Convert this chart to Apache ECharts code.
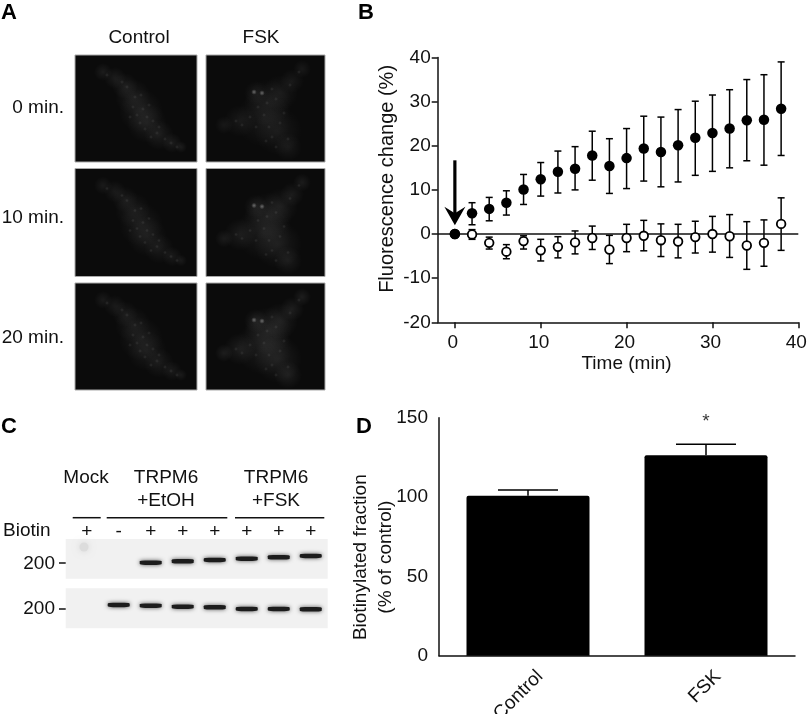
<!DOCTYPE html>
<html>
<head>
<meta charset="utf-8">
<style>
  html, body { margin: 0; padding: 0; background: #fff; }
  #chart { width: 807px; height: 714px; }
</style>
</head>
<body>
<div id="chart"></div>
<script src="https://cdn.jsdelivr.net/npm/echarts@6/dist/echarts.min.js"></script>
<script>
// panel B: fluorescence change over time
const times = [0, 2, 4, 6, 8, 10, 12, 14, 16, 18, 20, 22, 24, 26, 28, 30, 32, 34, 36, 38]
const fskMean = [0, 4.7, 5.7, 7.1, 10.1, 12.4, 14.1, 14.8, 17.8, 15.4, 17.2, 19.4, 18.6, 20.1, 21.8, 22.9, 23.9, 25.8, 25.9, 28.4]
const fskHigh = [0, 7.1, 8.3, 9.8, 13.5, 16.2, 18.8, 19.8, 23.3, 21.6, 23.9, 26.7, 26.5, 28.2, 30.1, 31.5, 32.7, 35, 36.1, 39]
const fskLow = [0, 2.1, 3, 4.3, 6.7, 8.6, 9.3, 10, 12.2, 9.2, 10.3, 12, 10.7, 11.8, 13.3, 14.2, 15, 16.6, 15.6, 17.8]
const ctlMean = [0, -0.1, -2, -4, -1.6, -3.7, -2.9, -1.9, -0.9, -3.5, -0.9, -0.4, -1.4, -1.7, -0.7, 0, -0.5, -2.6, -2, 2.3]
const ctlHigh = [0, 1, -0.7, -2.4, -0.4, -1.2, -0.6, 0.7, 1.8, -0.3, 2.2, 3.1, 2.3, 2.2, 2.9, 4, 4.4, 2.8, 3.2, 8.2]
const ctlLow = [0, -1.2, -3.4, -5.6, -3.4, -6.1, -5.4, -4.5, -3.5, -6.7, -4, -3.8, -5.1, -5.4, -4.3, -4.1, -5.3, -8, -7.3, -3.7]
const timeTicks = [0, 10, 20, 30, 40]
const zeroLine = [[-2, 0], [40, 0]]
const arrowMark = [[0, 16.7, 2]]

// panel D: biotinylated fraction
const barNames = ['Control', 'FSK']
const barValues = [100.8, 126.3]
const barErrors = [104.4, 133.2]

// panel C: blot bands, lane number and position down the blot
const upperLanes = [2, 3, 4, 5, 6, 7]
const upperBands = [23.7, 22.3, 21, 19.7, 18.3, 17]
const lowerLanes = [1, 2, 3, 4, 5, 6, 7]
const lowerBands = [66, 66.7, 67.7, 68.3, 70, 70, 70.3]
const laneSigns = ['+', '-', '+', '+', '+', '+', '+', '+']

// panel A: soft patches (x, y, radius) that build up each cell
const controlPatches = [[28, 17, 9], [40, 23, 11], [50, 31, 13], [58, 42, 18], [66, 56, 22], [72, 68, 20], [84, 80, 15], [97, 88, 10], [106, 92, 6]]
const fskPatches = [[96, 14, 9], [86, 26, 12], [74, 38, 18], [50, 38, 12], [62, 48, 24], [58, 64, 28], [72, 76, 24], [82, 92, 14], [34, 66, 16], [18, 70, 9]]
const controlSpots = [[60, 42], [72, 62], [65, 68], [82, 78], [102, 92], [52, 32], [32, 20], [58, 52], [66, 40], [74, 50], [62, 60], [78, 66], [70, 74], [90, 84], [55, 62], [47, 27], [84, 72], [96, 88], [76, 82], [68, 54]]
const fskSpots = [[63, 72], [61, 48], [78, 58], [66, 82], [93, 17], [52, 52], [70, 44], [44, 62], [58, 60], [74, 68], [82, 84], [30, 66], [36, 70], [66, 34], [50, 72], [84, 30], [70, 92], [60, 86]]
const fskBright = [[56, 38], [48, 37]]

const FONT = '"Liberation Sans", Arial, sans-serif'

const chart = echarts.init(document.getElementById('chart'))

// error bars with caps, shared by panels B and D
function errorBars(capHalf, lineWidth, upperOnly) {
  return function (params, api) {
    const top = api.coord([api.value(0), api.value(2)])
    const bottom = api.coord([api.value(0), api.value(1)])
    const style = { stroke: '#000', lineWidth: lineWidth, fill: null }
    const children = [
      { type: 'line', shape: { x1: top[0], y1: top[1], x2: bottom[0], y2: bottom[1] }, style: style },
      { type: 'line', shape: { x1: top[0] - capHalf, y1: top[1], x2: top[0] + capHalf, y2: top[1] }, style: style }
    ]
    if (!upperOnly) {
      children.push({ type: 'line', shape: { x1: bottom[0] - capHalf, y1: bottom[1], x2: bottom[0] + capHalf, y2: bottom[1] }, style: style })
    }
    return { type: 'group', children: children }
  }
}

function renderArrow(params, api) {
  const from = api.coord([api.value(0), api.value(1)])
  const to = api.coord([api.value(0), api.value(2)])
  return {
    type: 'group',
    children: [
      { type: 'line', shape: { x1: from[0], y1: from[1], x2: to[0], y2: to[1] - 10 }, style: { stroke: '#000', lineWidth: 3.2 } },
      {
        type: 'polygon',
        shape: { points: [[to[0], to[1]], [to[0] - 10.5, to[1] - 18.5], [to[0], to[1] - 12], [to[0] + 10.5, to[1] - 18.5]] },
        style: { fill: '#000' }
      }
    ]
  }
}

function label(text, x, y, align, extra) {
  return {
    type: 'text',
    x: x,
    y: y,
    style: Object.assign({
      text: text,
      fill: '#111',
      font: '19px ' + FONT,
      textAlign: align || 'center',
      textVerticalAlign: 'middle'
    }, extra || {})
  }
}

function panelLetter(text, x, y) {
  return label(text, x, y, 'left', { font: 'bold 22px ' + FONT, fill: '#000' })
}

function rule(x1, x2, y) {
  return { type: 'line', shape: { x1: x1, y1: y, x2: x2, y2: y }, style: { stroke: '#111', lineWidth: 1.5 } }
}

function softDot(x, y, r, alpha) {
  return {
    type: 'circle',
    shape: { cx: x, cy: y, r: r },
    style: {
      fill: {
        type: 'radial', x: 0.5, y: 0.5, r: 0.5,
        colorStops: [
          { offset: 0, color: 'rgba(255,255,255,' + alpha + ')' },
          { offset: 1, color: 'rgba(255,255,255,0)' }
        ]
      }
    }
  }
}

// one microscope image: dark panel with a soft grey cell
function cellImage(x, y, w, h, patches, spots, glow, bright) {
  const children = [
    { type: 'rect', shape: { x: 0, y: 0, width: w, height: h }, style: { fill: '#0b0b0b', stroke: '#a9a9a9', lineWidth: 1 } }
  ]
  patches.forEach(p => children.push(softDot(p[0], p[1], p[2], glow)))
  spots.forEach(s => children.push(softDot(s[0], s[1], 2, 0.09)))
  if (bright) {
    bright.forEach(s => children.push(softDot(s[0], s[1], 2.8, 0.35)))
  }
  return { type: 'group', x: x, y: y, children: children }
}

const graphics = [
  panelLetter('A', 1, 13),
  panelLetter('B', 358, 13),
  panelLetter('C', 1, 427),
  panelLetter('D', 356, 427),
  label('Control', 139, 38),
  label('FSK', 261, 38),
  label('0 min.', 64, 108, 'right'),
  label('10 min.', 64, 218, 'right'),
  label('20 min.', 64, 338, 'right'),
  cellImage(75, 55, 122, 107, controlPatches, controlSpots, 0.07),
  cellImage(206, 55, 119, 107, fskPatches, fskSpots, 0.055, fskBright),
  cellImage(75, 168.5, 122, 108, controlPatches, controlSpots, 0.062),
  cellImage(206, 168.5, 119, 108, fskPatches, fskSpots, 0.065, fskBright),
  cellImage(75, 283, 122, 107, controlPatches, controlSpots, 0.062),
  cellImage(206, 283, 119, 107, fskPatches, fskSpots, 0.075, fskBright),

  label('Mock', 86, 478),
  label('TRPM6', 166, 478),
  label('+EtOH', 166, 501),
  label('TRPM6', 276, 478),
  label('+FSK', 276, 501),
  label('Biotin', 3, 531, 'left'),
  rule(72.7, 100.7, 517.7),
  rule(106.7, 227.3, 517.7),
  rule(235, 324.3, 517.7),
  label('200', 55, 563.5, 'right'),
  label('200', 55, 609, 'right'),
  rule(59, 66.5, 563),
  rule(59, 66.5, 609),
  { type: 'rect', shape: { x: 65.7, y: 539, width: 262, height: 39.7 }, style: { fill: '#f1f1f1' } },
  { type: 'rect', shape: { x: 65.7, y: 588.3, width: 262, height: 40 }, style: { fill: '#f1f1f1' } },
  { type: 'circle', shape: { cx: 84, cy: 547, r: 4.5 }, style: { fill: '#dcdcdc', shadowBlur: 7, shadowColor: '#d6d6d6' } }
]

laneSigns.forEach((sign, i) => {
  graphics.push(label(sign, 86.7 + 32 * i, 532))
})

const axisLine = { lineStyle: { color: '#111', width: 1.5 } }
const axisTick = { length: 6, lineStyle: { color: '#111', width: 1.5 } }
const tickText = { color: '#111', fontSize: 19, fontFamily: FONT }

function bandSeries(lanes, positions) {
  return {
    type: 'scatter',
    xAxisIndex: 2,
    yAxisIndex: 2,
    silent: true,
    symbol: 'roundRect',
    symbolSize: [22, 4.4],
    itemStyle: { color: '#1c1c1c', shadowBlur: 4, shadowColor: '#555', opacity: 1 },
    data: lanes.map((lane, i) => [lane, positions[i]])
  }
}

chart.setOption({
  animation: false,
  backgroundColor: '#fff',
  textStyle: { fontFamily: FONT },
  graphic: graphics,
  grid: [
    { left: 437.7, top: 57.5, width: 360.6, height: 264.8, outerBoundsMode: 'none' },
    { left: 439, top: 417.7, width: 356, height: 238, outerBoundsMode: 'none' },
    { left: 65.7, top: 539, width: 262, height: 89.3, outerBoundsMode: 'none' }
  ],
  xAxis: [
    {
      gridIndex: 0,
      type: 'value',
      min: -2,
      max: 40,
      splitLine: { show: false },
      axisLine: Object.assign({ onZero: false }, axisLine),
      axisTick: Object.assign({ customValues: timeTicks }, axisTick),
      axisLabel: Object.assign({ customValues: timeTicks, margin: 11, hideOverlap: false, padding: [0, 4, 0, 0] }, tickText),
      name: 'Time (min)',
      nameLocation: 'middle',
      nameGap: 32,
      nameMoveOverlap: false,
      nameTextStyle: Object.assign({ padding: [0, 0, 0, 17] }, tickText)
    },
    {
      gridIndex: 1,
      type: 'category',
      data: barNames,
      axisLine: axisLine,
      axisTick: { show: false },
      axisLabel: Object.assign({ rotate: 45, margin: 30, padding: [0, -17, 0, 0] }, tickText)
    },
    { gridIndex: 2, type: 'value', min: -0.656, max: 7.53, show: false }
  ],
  yAxis: [
    {
      gridIndex: 0,
      type: 'value',
      min: -20,
      max: 40,
      interval: 10,
      splitLine: { show: false },
      axisLine: Object.assign({ show: true, onZero: false }, axisLine),
      axisTick: axisTick,
      axisLabel: Object.assign({ margin: 7 }, tickText),
      name: 'Fluorescence change (%)',
      nameLocation: 'middle',
      nameGap: 40,
      nameMoveOverlap: false,
      nameTextStyle: { color: '#111', fontSize: 20, fontFamily: FONT, padding: [0, 0, 0, 22] }
    },
    {
      gridIndex: 1,
      type: 'value',
      min: 0,
      max: 150,
      interval: 50,
      splitLine: { show: false },
      axisLine: Object.assign({ show: true }, axisLine),
      axisTick: Object.assign({}, axisTick, { length: 7 }),
      axisLabel: Object.assign({ margin: 11 }, tickText),
      name: 'Biotinylated fraction\n(% of control)',
      nameLocation: 'middle',
      nameGap: 41,
      nameMoveOverlap: false,
      nameTextStyle: Object.assign({ lineHeight: 25, padding: [0, 41, 0, 0] }, tickText)
    },
    { gridIndex: 2, type: 'value', inverse: true, min: 0, max: 89.3, show: false }
  ],
  series: [
    {
      type: 'line',
      xAxisIndex: 0,
      yAxisIndex: 0,
      symbol: 'none',
      silent: true,
      lineStyle: { color: '#111', width: 1.5 },
      data: zeroLine
    },
    {
      name: 'FSK error',
      type: 'custom',
      xAxisIndex: 0,
      yAxisIndex: 0,
      z: 3,
      clip: false,
      renderItem: errorBars(3.5, 1.5),
      data: times.map((t, i) => [t, fskLow[i], fskHigh[i]])
    },
    {
      name: 'Control error',
      type: 'custom',
      xAxisIndex: 0,
      yAxisIndex: 0,
      z: 3,
      clip: false,
      renderItem: errorBars(3.5, 1.5),
      data: times.map((t, i) => [t, ctlLow[i], ctlHigh[i]])
    },
    {
      name: 'Control',
      type: 'scatter',
      xAxisIndex: 0,
      yAxisIndex: 0,
      z: 4,
      symbolSize: 8.6,
      itemStyle: { color: '#fff', borderColor: '#000', borderWidth: 1.8, opacity: 1 },
      data: times.map((t, i) => [t, ctlMean[i]])
    },
    {
      name: 'FSK',
      type: 'scatter',
      xAxisIndex: 0,
      yAxisIndex: 0,
      z: 5,
      symbolSize: 10.5,
      itemStyle: { color: '#000', opacity: 1 },
      data: times.map((t, i) => [t, fskMean[i]])
    },
    {
      name: 'Arrow',
      type: 'custom',
      xAxisIndex: 0,
      yAxisIndex: 0,
      z: 6,
      clip: false,
      renderItem: renderArrow,
      data: arrowMark
    },
    {
      name: 'Error',
      type: 'custom',
      xAxisIndex: 1,
      yAxisIndex: 1,
      z: 1,
      clip: false,
      renderItem: errorBars(30, 1.5, true),
      data: barNames.map((n, i) => [i, barValues[i], barErrors[i]])
    },
    {
      name: 'Biotinylated',
      type: 'bar',
      xAxisIndex: 1,
      yAxisIndex: 1,
      barWidth: 123,
      z: 2,
      itemStyle: { color: '#000', borderRadius: [2, 2, 0, 0] },
      data: barValues
    },
    {
      name: 'Significance',
      type: 'scatter',
      xAxisIndex: 1,
      yAxisIndex: 1,
      symbolSize: 0,
      label: { show: true, position: 'inside', formatter: '*', color: '#000', fontSize: 19, fontFamily: FONT },
      data: [['FSK', 147.2]]
    },
    bandSeries(upperLanes, upperBands),
    bandSeries(lowerLanes, lowerBands)
  ]
})
</script>
</body>
</html>
